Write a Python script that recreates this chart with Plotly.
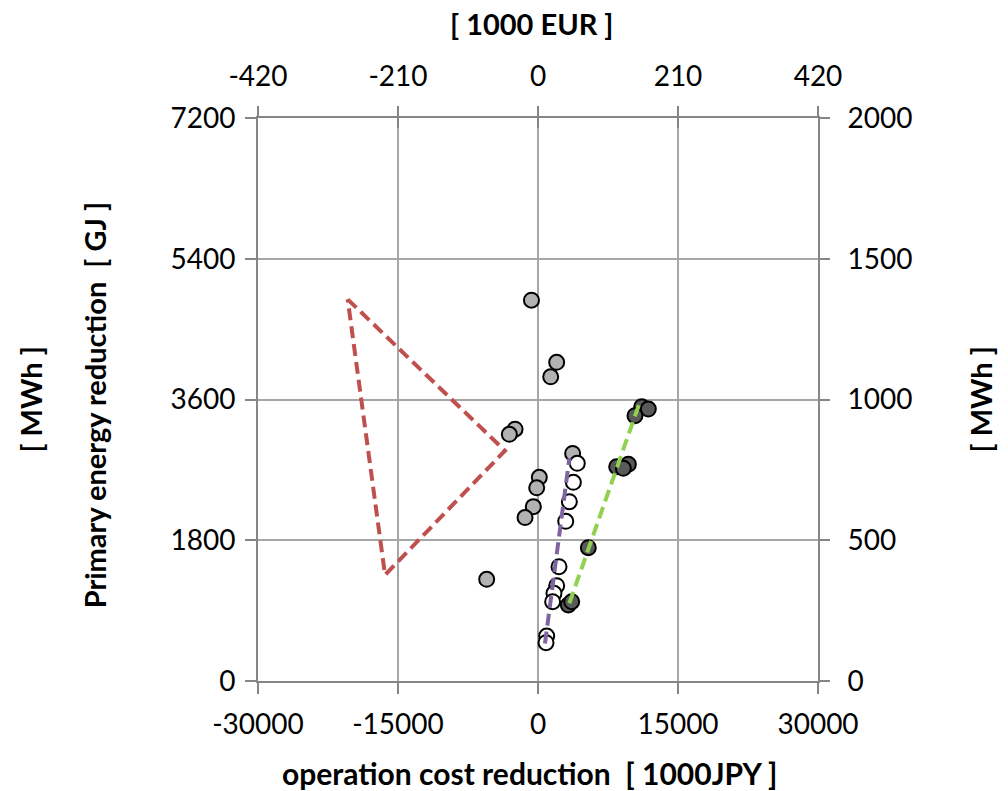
import plotly.graph_objects as go

# ---- data (operation cost reduction [1000 JPY], primary energy reduction [GJ]) ----
gray_x = [-700, 2000, 1360, -2460, -3070, 3710, 140, -140, -500, -1390, -5500]
gray_y = [4870, 4075, 3890, 3220, 3155, 2910, 2605, 2470, 2230, 2090, 1300]

white_x = [4210, 3790, 3360, 2970, 2250, 2000, 1710, 1570, 930, 860]
white_y = [2784, 2541, 2293, 2042, 1462, 1219, 1121, 1014, 575, 490]

dark_x = [11110, 11820, 10390, 8430, 9680, 9140, 5390, 3250, 3610]
dark_y = [3508, 3478, 3393, 2740, 2771, 2720, 1705, 972, 1014]

purple_x = [750, 3360]
purple_y = [480, 2848]

green_x = [3360, 10930]
green_y = [994, 3572]

red_x = [-20390, -3540, -16390, -20390]
red_y = [4881, 2945, 1356, 4881]

x_range = [-30000, 30000]
x_ticks = [-30000, -15000, 0, 15000, 30000]
y_range = [0, 7200]
y_ticks = [0, 1800, 3600, 5400, 7200]
eur_range = [-420, 420]
eur_ticks = [-420, -210, 0, 210, 420]
mwh_range = [0, 2000]
mwh_ticks = [0, 500, 1000, 1500, 2000]

FONT = "Lato"
AX = "#868686"
GRID = "#a6a6a6"

fig = go.Figure()

marker_line = dict(color="black", width=2)
fig.add_trace(go.Scatter(x=gray_x, y=gray_y, mode="markers",
                         marker=dict(size=15, color="#b2b2b2", line=marker_line)))
fig.add_trace(go.Scatter(x=white_x, y=white_y, mode="markers",
                         marker=dict(size=15, color="#ffffff", line=marker_line)))
fig.add_trace(go.Scatter(x=dark_x, y=dark_y, mode="markers",
                         marker=dict(size=15, color="#5a5a5a", line=marker_line)))
dash = "12px,6px"
fig.add_trace(go.Scatter(x=purple_x, y=purple_y, mode="lines",
                         line=dict(color="#8064a2", width=4, dash=dash)))
fig.add_trace(go.Scatter(x=green_x, y=green_y, mode="lines",
                         line=dict(color="#92d050", width=4, dash=dash)))
fig.add_trace(go.Scatter(x=red_x, y=red_y, mode="lines",
                         line=dict(color="#c0504d", width=4, dash=dash)))
# empty traces to activate secondary axes
fig.add_trace(go.Scatter(x=[None], y=[None], xaxis="x2", yaxis="y2", hoverinfo="skip"))
fig.add_trace(go.Scatter(x=[None], y=[None], xaxis="x3", yaxis="y2", hoverinfo="skip"))

tickfont = dict(family=FONT, size=28, color="black")

fig.update_layout(
    width=1008, height=791,
    margin=dict(l=258, r=190, t=118, b=110, autoexpand=False),
    paper_bgcolor="white", plot_bgcolor="white",
    showlegend=False,
    font=dict(family=FONT, color="black"),
    xaxis=dict(range=x_range, tickvals=x_ticks, ticktext=[str(v) for v in x_ticks],
               showgrid=True, gridcolor=GRID, gridwidth=2, zeroline=False,
               showline=True, linecolor=AX, linewidth=2,
               ticks="outside", ticklen=11, tickwidth=2, tickcolor=AX,
               tickfont=tickfont, ticklabelstandoff=6),
    yaxis=dict(range=y_range, tickvals=y_ticks, ticktext=[str(v) for v in y_ticks],
               showgrid=True, gridcolor=GRID, gridwidth=2, zeroline=False,
               showline=True, linecolor=AX, linewidth=2,
               ticks="outside", ticklen=11, tickwidth=2, tickcolor=AX,
               tickfont=tickfont, ticklabelstandoff=4),
    xaxis2=dict(range=eur_range, tickvals=eur_ticks, ticktext=[str(v) for v in eur_ticks],
                overlaying="x", side="top", anchor="y2",
                showgrid=False, zeroline=False,
                showline=True, linecolor=AX, linewidth=2,
                ticks="outside", ticklen=10, tickwidth=2, tickcolor=AX,
                tickfont=tickfont, ticklabelstandoff=9),
    xaxis3=dict(range=eur_range, tickvals=eur_ticks, showticklabels=False,
                overlaying="x", side="top", anchor="y2",
                showgrid=False, zeroline=False, showline=False,
                ticks="inside", ticklen=10, tickwidth=2, tickcolor=AX),
    yaxis2=dict(range=mwh_range, tickvals=mwh_ticks, ticktext=[str(v) for v in mwh_ticks],
                overlaying="y", side="right", anchor="x",
                showgrid=False, zeroline=False,
                showline=True, linecolor=AX, linewidth=2,
                ticks="outside", ticklen=10, tickwidth=2, tickcolor=AX,
                tickfont=tickfont, ticklabelstandoff=12),
)

title_font = dict(family=FONT, size=29, color="black", weight="bold")
annotations = [
    dict(text="[ 1000 EUR ]", x=0.4875, y=1.168, textangle=0, size=29),
    dict(text="operation cost reduction  [ 1000JPY ]", x=0.4857, y=-0.163, textangle=0, size=30),
    dict(text="Primary energy reduction  [ GJ ]", x=-0.2925, y=0.49, textangle=-90, size=29),
    dict(text="[ MWh ]", x=-0.407, y=0.50, textangle=-90, size=29),
    dict(text="[ MWh ]", x=1.291, y=0.50, textangle=-90, size=29),
]
for a in annotations:
    f = dict(title_font)
    f["size"] = a.pop("size")
    fig.add_annotation(xref="paper", yref="paper", showarrow=False,
                       xanchor="center", yanchor="middle", font=f, **a)

fig.write_html("out.html")
